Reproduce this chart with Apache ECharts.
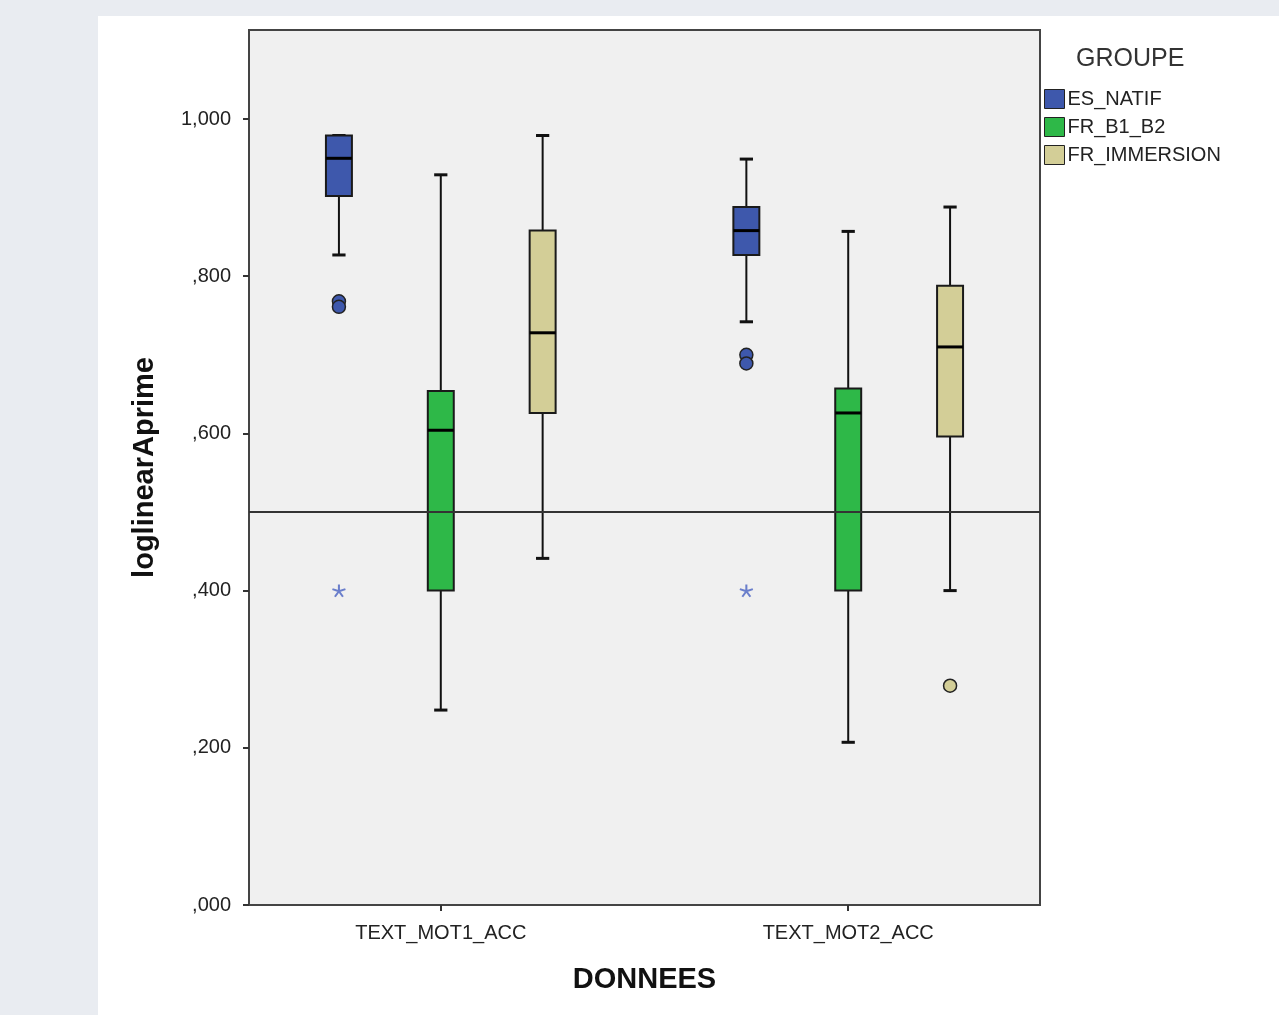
<!DOCTYPE html>
<html lang="fr">
<head>
    <meta charset="UTF-8">
    <title>loglinearAprime par DONNEES</title>
    <script src="https://cdn.jsdelivr.net/npm/echarts@6/dist/echarts.min.js"></script>
    <style>
        body { margin: 0; background: #e9ecf1; }
        #panel { position: absolute; left: 98px; top: 16px; right: 0; bottom: 0; background: #fff; }
        #main { position: absolute; left: 0; top: 0; width: 1279px; height: 1015px; }
    </style>
</head>
<body>
<div id="panel"></div>
<div id="main"></div>
<script type="text/javascript">
    // données : [min, Q1, mediane, Q3, max] par variable
    var categories = ['TEXT_MOT1_ACC', 'TEXT_MOT2_ACC'];
    var groups = ['ES_NATIF', 'FR_B1_B2', 'FR_IMMERSION'];
    var colors = ['#3e58ac', '#2eb848', '#d3ce97'];

    var esNatif = [[0.827, 0.902, 0.950, 0.979, 0.979], [0.742, 0.827, 0.858, 0.888, 0.949]];
    var frB1B2 = [[0.248, 0.400, 0.604, 0.654, 0.929], [0.207, 0.400, 0.626, 0.657, 0.857]];
    var frImmersion = [[0.441, 0.626, 0.728, 0.858, 0.979], [0.400, 0.596, 0.710, 0.788, 0.888]];

    // valeurs aberrantes (o) et extremes (*) : [index variable, valeur]
    var esNatifOutliers = [[0, 0.768], [0, 0.761], [1, 0.700], [1, 0.689]];
    var esNatifExtremes = [[0, 0.400], [1, 0.400]];
    var frImmersionOutliers = [[1, 0.279]];

    var refLine = 0.5;
    var yTicks = [0, 0.2, 0.4, 0.6, 0.8, 1.0];

    // 7 emplacements : 3 boites, un vide, 3 boites
    var slotLabels = ['', categories[0], '', '', '', categories[1], ''];
    function slotOf(cat, g) { return cat * 4 + g; }

    function toRows(stats, g) {
        return stats.map(function (s, cat) { return [slotOf(cat, g)].concat(s); });
    }
    function toPoints(list, g) {
        return list.map(function (p) { return [slotOf(p[0], g), p[1]]; });
    }

    function fmt(v) {
        var s = v.toFixed(3).replace('.', ',');
        return s.charAt(0) === '0' ? s.slice(1) : s;
    }

    function renderBox(params, api) {
        var x = api.value(0);
        var lo = api.coord([x, api.value(1)]);
        var q1 = api.coord([x, api.value(2)]);
        var med = api.coord([x, api.value(3)]);
        var q3 = api.coord([x, api.value(4)]);
        var hi = api.coord([x, api.value(5)]);
        var band = api.size([1, 0])[0];
        var bw = band * 0.255, cw = band * 0.13;
        var cx = med[0];
        var ln = {stroke: '#111', lineWidth: 2};
        return {
            type: 'group',
            children: [
                {type: 'line', shape: {x1: cx, y1: hi[1], x2: cx, y2: q3[1]}, style: ln},
                {type: 'line', shape: {x1: cx, y1: q1[1], x2: cx, y2: lo[1]}, style: ln},
                {type: 'line', shape: {x1: cx - cw / 2, y1: hi[1], x2: cx + cw / 2, y2: hi[1]}, style: {stroke: '#111', lineWidth: 3}},
                {type: 'line', shape: {x1: cx - cw / 2, y1: lo[1], x2: cx + cw / 2, y2: lo[1]}, style: {stroke: '#111', lineWidth: 3}},
                {
                    type: 'rect',
                    shape: {x: cx - bw / 2, y: q3[1], width: bw, height: q1[1] - q3[1]},
                    style: {fill: api.visual('color'), stroke: '#1a1a1a', lineWidth: 2}
                },
                {type: 'line', shape: {x1: cx - bw / 2, y1: med[1], x2: cx + bw / 2, y2: med[1]}, style: {stroke: '#000', lineWidth: 3}}
            ]
        };
    }

    var boxSeries = [esNatif, frB1B2, frImmersion].map(function (stats, g) {
        return {
            name: groups[g],
            type: 'custom',
            xAxisIndex: 1,
            yAxisIndex: 1,
            renderItem: renderBox,
            itemStyle: {color: colors[g]},
            encode: {x: 0, y: [1, 2, 3, 4, 5]},
            data: toRows(stats, g),
            z: 3
        };
    });

    var asterisk = 'path://M5 5L5 0M5 5L9.755 3.455M5 5L7.939 9.045M5 5L2.061 9.045M5 5L0.245 3.455';

    var myChart = echarts.init(document.getElementById('main'));
    var option = {
        animation: false,
        textStyle: {fontFamily: 'Liberation Sans'},
        title: {
            text: 'GROUPE',
            left: 1071,
            top: 42,
            textStyle: {fontSize: 25, fontWeight: 'normal', color: '#333', fontFamily: 'Liberation Sans'}
        },
        legend: {
            data: groups,
            orient: 'vertical',
            left: 1039,
            top: 84,
            itemWidth: 20,
            itemHeight: 19,
            itemGap: 8,
            icon: 'rect',
            itemStyle: {borderColor: '#222', borderWidth: 1},
            textStyle: {fontSize: 20, color: '#222', padding: [0, 0, 0, -2]}
        },
        grid: [
            {left: 249, top: 30, width: 791, height: 875, show: true, backgroundColor: '#f0f0f0', borderColor: '#444', borderWidth: 2},
            {left: 288, top: 119, width: 713, height: 786}
        ],
        xAxis: [
            {
                gridIndex: 0, type: 'value', min: 0, max: 1,
                axisLine: {show: false}, axisTick: {show: false}, axisLabel: {show: false}, splitLine: {show: false},
                name: 'DONNEES', nameLocation: 'middle', nameGap: 60,
                nameTextStyle: {fontSize: 29, fontWeight: 'bold', color: '#111'}
            },
            {
                gridIndex: 1, type: 'category', data: slotLabels,
                axisLine: {show: false},
                axisTick: {
                    show: true, alignWithLabel: true, length: 6,
                    interval: function (i) { return slotLabels[i] !== ''; },
                    lineStyle: {color: '#333', width: 2}
                },
                axisLabel: {interval: 0, margin: 18, fontSize: 20, color: '#222'}
            }
        ],
        yAxis: [
            {
                gridIndex: 0, type: 'value', min: 0, max: 875 / 786,
                axisLine: {show: false}, axisTick: {show: false}, axisLabel: {show: false}, splitLine: {show: false},
                name: 'loglinearAprime', nameLocation: 'middle', nameGap: 90,
                nameTextStyle: {fontSize: 29, fontWeight: 'bold', color: '#111'}
            },
            {
                gridIndex: 1, type: 'value', min: yTicks[0], max: yTicks[yTicks.length - 1], interval: 0.2,
                position: 'left', offset: 39,
                axisLine: {show: true, lineStyle: {color: '#444', width: 2}},
                axisTick: {show: true, length: 6, lineStyle: {color: '#333', width: 2}},
                axisLabel: {margin: 18, fontSize: 20, color: '#222', formatter: fmt},
                splitLine: {show: false}
            }
        ],
        series: boxSeries.concat([
            {
                name: 'ES_NATIF o',
                type: 'scatter',
                xAxisIndex: 1, yAxisIndex: 1,
                symbolSize: 13,
                itemStyle: {color: colors[0], borderColor: '#222', borderWidth: 1.5, opacity: 1},
                data: toPoints(esNatifOutliers, 0),
                z: 4
            },
            {
                name: 'ES_NATIF *',
                type: 'scatter',
                xAxisIndex: 1, yAxisIndex: 1,
                symbol: asterisk,
                symbolSize: [13, 12.4],
                itemStyle: {color: 'none', borderColor: '#4862c2', borderWidth: 2},
                data: toPoints(esNatifExtremes, 0),
                z: 4
            },
            {
                name: 'FR_IMMERSION o',
                type: 'scatter',
                xAxisIndex: 1, yAxisIndex: 1,
                symbolSize: 13,
                itemStyle: {color: colors[2], borderColor: '#222', borderWidth: 1.5, opacity: 1},
                data: toPoints(frImmersionOutliers, 2),
                z: 4
            },
            {
                name: 'ref',
                type: 'line',
                xAxisIndex: 0, yAxisIndex: 0,
                symbol: 'none',
                silent: true,
                lineStyle: {color: '#333', width: 2},
                data: [[0, refLine], [1, refLine]],
                z: 5
            }
        ])
    };
    myChart.setOption(option);
</script>
</body>
</html>
